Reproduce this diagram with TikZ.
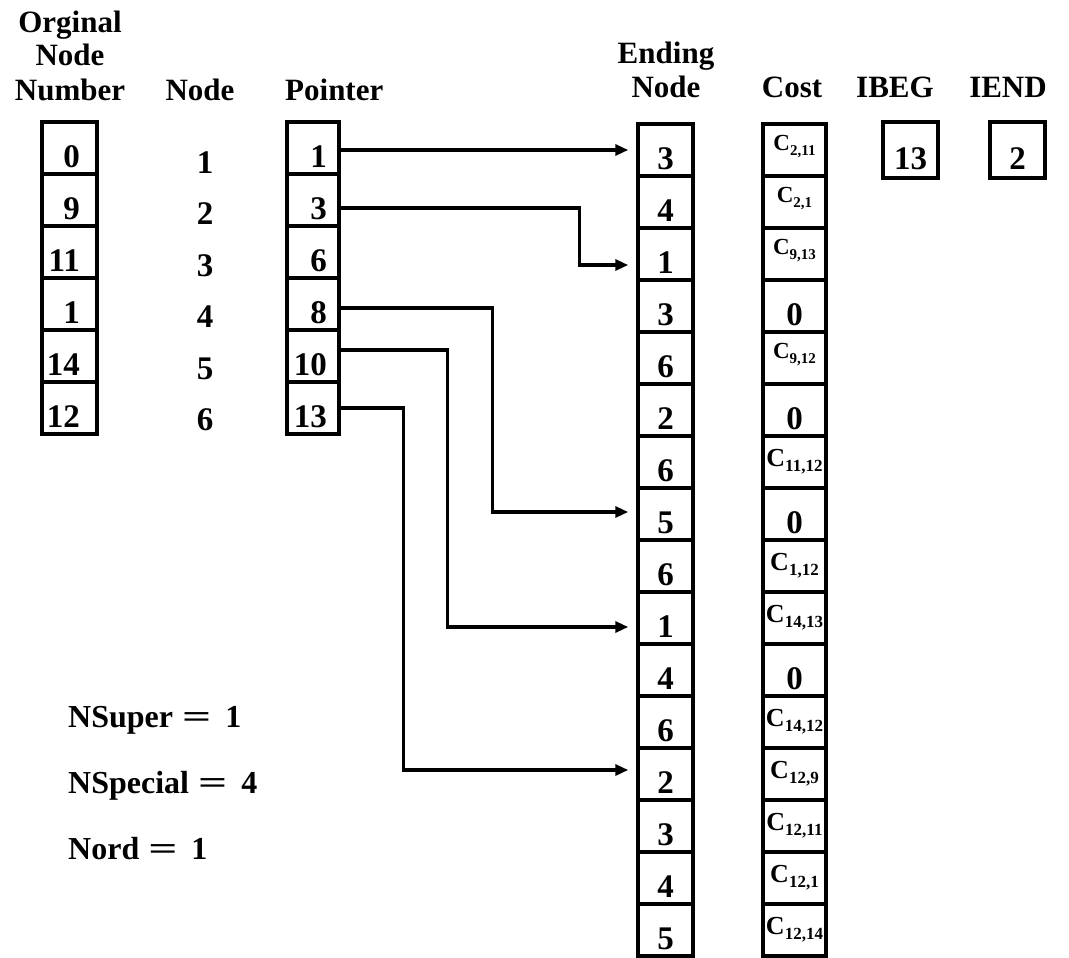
\documentclass[tikz,border=0pt]{standalone}
\usepackage{fontspec}
\setmainfont{Liberation Serif}
\usetikzlibrary{arrows.meta}
\newcommand\dfont{\fontsize{33}{35}\selectfont\bfseries}
\newcommand\hfont{\fontsize{31}{33}\selectfont\bfseries}
\newcommand\bfont{\fontsize{32}{34}\selectfont\bfseries}
\newcommand\cfont{\fontsize{26}{28}\selectfont\bfseries}
\newcommand\csfont{\fontsize{23}{25}\selectfont\bfseries}
\newcommand\cst[3]{C\raisebox{-5pt}{\fontsize{#3}{#3}\selectfont\bfseries #1,#2}}
\newcommand\eqs{\scalebox{1.6}[1]{=}}
\tikzset{
  cellbox/.style={draw, line width=3.5pt, minimum height=52pt, inner sep=0pt,
                  text height=38pt, text depth=0pt, font=\dfont},
  lab/.style={inner sep=0pt, font=\dfont},
  hdr/.style={inner sep=0pt, anchor=base, font=\hfont},
  btxt/.style={inner sep=0pt, anchor=base west, font=\bfont},
  costlab/.style={inner sep=0pt, font=\cfont},
  costsmall/.style={inner sep=0pt, font=\csfont},
  arr/.style={line width=3.2pt, -{Triangle[length=13pt,width=11pt]}, shorten >=8pt},
}
\begin{document}
\begin{tikzpicture}[x=1pt,y=-1pt]
\useasboundingbox (0,0) rectangle (1069,958);
% headers
\node[hdr] (h1a) at (70,33) {Orginal};
\node[hdr] (h1b) at (70,66) {Node};
\node[hdr] (h1c) at (70,100) {Number};
\node[hdr] (h2) at (200,100) {Node};
\node[hdr, anchor=base west] (h3) at (285,100) {Pointer};
\node[hdr] (h4a) at (666,64) {Ending};
\node[hdr] (h4b) at (666,97) {Node};
\node[hdr] (h5) at (792,97) {Cost};
\node[hdr] (h6) at (895,97) {IBEG};
\node[hdr] (h7) at (1008,97) {IEND};
% original node numbers
\foreach \v [count=\i] in {0,9,11,1,14,12} {
  \node[cellbox, minimum width=55pt] (o\i) at (69.5,96+52*\i) {};
  \node[lab, anchor=base east] (ot\i) at (80,115+52*\i) {\v};
}
% node index
\foreach \i in {1,...,6} {
  \node[lab, anchor=base] (n\i) at (205,121.5+51.5*\i) {\i};
}
% pointer
\foreach \v [count=\i] in {1,3,6,8,10,13} {
  \node[cellbox, minimum width=52pt] (p\i) at (313,96+52*\i) {};
  \node[lab, anchor=base east] (pt\i) at (327,115+52*\i) {\v};
}
% ending node
\foreach \v [count=\i] in {3,4,1,3,6,2,6,5,6,1,4,6,2,3,4,5} {
  \node[cellbox, minimum width=55pt] (e\i) at (665.5,98+52*\i) {\v};
}
% cost
\foreach \i in {1,...,16} {
  \node[cellbox, minimum width=63pt] (c\i) at (794.5,98+52*\i) {};
}
\foreach \i/\a/\b in {1/2/11,2/2/1,3/9/13,5/9/12} {
  \node[costsmall] (ct\i) at ([yshift=3pt]c\i.center) {\cst{\a}{\b}{15}};
}
\foreach \i/\a/\b in {7/11/12,9/1/12,10/14/13,12/14/12,13/12/9,14/12/11,15/12/1,16/12/14} {
  \node[costlab] (ct\i) at (c\i) {\cst{\a}{\b}{17}};
}
\foreach \i in {4,6,8,11} {
  \node[lab, anchor=base] (ct\i) at (794.5,117+52*\i) {0};
}
% IBEG, IEND
\node[cellbox, minimum width=55pt, minimum height=56pt] (ib) at (910.5,150) {13};
\node[cellbox, minimum width=55pt, minimum height=56pt] (ie) at (1017.5,150) {2};
% arrows
\draw[arr] ([yshift=-2pt]p1.east) -- ([yshift=-2pt]p1.east -| e1.west);
\draw[arr] ([yshift=-8pt]p2.east) -| ([xshift=-57pt,yshift=-11pt]e3.west) -- ([yshift=-11pt]e3.west);
\draw[arr] ([yshift=-4pt]p4.east) -| ([xshift=-144pt,yshift=2pt]e8.west) -- ([yshift=2pt]e8.west);
\draw[arr] ([yshift=6pt]p5.east) -| ([xshift=-189pt,yshift=-9pt]e10.west) -- ([yshift=-9pt]e10.west);
\draw[arr] (p6.east) -| ([xshift=-233pt,yshift=4pt]e13.west) -- ([yshift=4pt]e13.west);
% parameters
\node[btxt] (ns1) at (68,727) {NSuper\hspace{9pt}\eqs\hspace{14pt}1};
\node[btxt] (ns2) at (68,793) {NSpecial\hspace{9pt}\eqs\hspace{14pt}4};
\node[btxt] (ns3) at (68,859) {Nord\hspace{9pt}\eqs\hspace{14pt}1};
\end{tikzpicture}
\end{document}
